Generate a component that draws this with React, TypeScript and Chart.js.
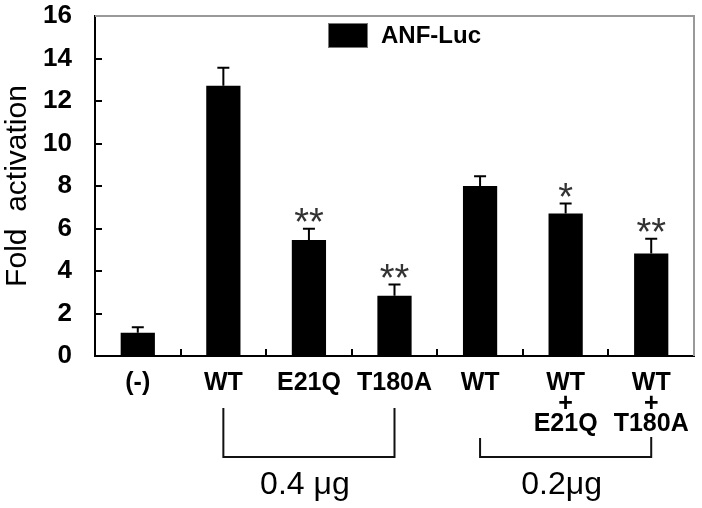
import React, { useEffect, useRef } from "react";
import { Chart, registerables } from "chart.js";

Chart.register(...registerables);

const FONT = "'Liberation Sans', Arial, Helvetica, sans-serif";

// ---- data ----
const categories: (string | string[])[] = [
  "(-)",
  "WT",
  "E21Q",
  "T180A",
  "WT",
  ["WT", "+", "E21Q"],
  ["WT", "+", "T180A"],
];
const foldActivation = [1.1, 12.72, 5.46, 2.84, 8.0, 6.71, 4.82];
const errorValues = [0.25, 0.85, 0.53, 0.53, 0.46, 0.47, 0.7];
const significance = ["", "", "**", "**", "", "*", "**"];
const seriesName = "ANF-Luc";
const yAxisTitle = "Fold  activation";
const yMin = 0;
const yMax = 16;
const yStep = 2;
const groupLabels = ["0.4 μg", "0.2μg"];
const groupFrom = [1, 4];
const groupTo = [3, 6];
const groupBracketTop = [408, 438];

const frameAndErrorPlugin = {
  id: "frameAndError",
  afterDatasetsDraw(chart: any) {
    const { ctx, chartArea } = chart;
    const y = chart.scales.y;
    const meta = chart.getDatasetMeta(0);
    ctx.save();
    // error bars
    ctx.strokeStyle = "#000";
    ctx.lineWidth = 2;
    meta.data.forEach((bar: any, i: number) => {
      const x = bar.x;
      const top = y.getPixelForValue(foldActivation[i] + errorValues[i]);
      const base = y.getPixelForValue(foldActivation[i]);
      ctx.beginPath();
      ctx.moveTo(x, base);
      ctx.lineTo(x, top);
      ctx.moveTo(x - 6, top);
      ctx.lineTo(x + 6, top);
      ctx.stroke();
      if (significance[i]) {
        ctx.fillStyle = "#333";
        ctx.font = `38px ${FONT}`;
        ctx.textAlign = "center";
        ctx.textBaseline = "alphabetic";
        ctx.fillText(significance[i], x, top - 15 + 0.57 * 38);
      }
    });
    // gray frame top/right
    ctx.strokeStyle = "#999";
    ctx.lineWidth = 2;
    ctx.beginPath();
    ctx.moveTo(chartArea.left, chartArea.top);
    ctx.lineTo(chartArea.right, chartArea.top);
    ctx.lineTo(chartArea.right, chartArea.bottom);
    ctx.stroke();
    ctx.restore();
  },
  afterDraw(chart: any) {
    const { ctx } = chart;
    const x = chart.scales.x;
    ctx.save();
    // legend
    const ds = chart.data.datasets[0];
    ctx.fillStyle = ds.backgroundColor;
    ctx.fillRect(328, 23, 40, 25);
    ctx.strokeStyle = "#777";
    ctx.lineWidth = 1;
    ctx.strokeRect(328.5, 23.5, 39, 24);
    ctx.fillStyle = "#000";
    ctx.font = `bold 24px ${FONT}`;
    ctx.textAlign = "left";
    ctx.textBaseline = "middle";
    ctx.fillText(ds.label, 381, 36);
    // group brackets
    ctx.strokeStyle = "#111";
    ctx.lineWidth = 2;
    const bottom = 457;
    groupLabels.forEach((label, g) => {
      const x1 = x.getPixelForValue(groupFrom[g]);
      const x2 = x.getPixelForValue(groupTo[g]);
      ctx.beginPath();
      ctx.moveTo(x1, groupBracketTop[g]);
      ctx.lineTo(x1, bottom);
      ctx.lineTo(x2, bottom);
      ctx.lineTo(x2, groupBracketTop[g] - (g === 1 ? 1 : 0));
      ctx.stroke();
      ctx.fillStyle = "#000";
      ctx.font = `32px ${FONT}`;
      ctx.textAlign = "center";
      ctx.textBaseline = "alphabetic";
      ctx.fillText(label, (x1 + x2) / 2 - 4, 494);
    });
    ctx.restore();
  },
};

export default function App() {
  const ref = useRef<HTMLCanvasElement | null>(null);
  useEffect(() => {
    if (!ref.current) return;
    const chart = new Chart(ref.current, {
      type: "bar",
      data: {
        labels: categories as any,
        datasets: [
          {
            label: seriesName,
            data: foldActivation,
            backgroundColor: "#000",
            borderWidth: 0,
            barPercentage: 0.4,
            categoryPercentage: 1.0,
          },
        ],
      },
      options: {
        animation: false,
        responsive: false,
        devicePixelRatio: 1,
        layout: { padding: { top: 16, right: 8, left: 0, bottom: 0 } },
        plugins: {
          legend: { display: false },
          tooltip: { enabled: false },
        },
        scales: {
          x: {
            offset: true,
            grid: {
              offset: true,
              drawOnChartArea: false,
              drawTicks: true,
              tickLength: -7,
              color: "#000",
              lineWidth: 2,
            },
            border: { display: true, color: "#000", width: 2 },
            ticks: {
              color: "#000",
              padding: 24,
              maxRotation: 0,
              autoSkip: false,
              font: { family: FONT, size: 25, weight: "bold", lineHeight: 0.82 },
            },
            afterFit(scale: any) {
              scale.height = 152;
              scale.paddingLeft = 0;
              scale.paddingRight = 0;
            },
          },
          y: {
            min: yMin,
            max: yMax,
            grid: {
              drawOnChartArea: false,
              drawTicks: true,
              tickLength: -7,
              color: "#000",
              lineWidth: 2,
            },
            border: { display: true, color: "#000", width: 2 },
            ticks: {
              stepSize: yStep,
              color: "#000",
              padding: 30,
              font: { family: FONT, size: 26, weight: "bold" },
            },
            title: {
              display: true,
              text: yAxisTitle,
              color: "#000",
              padding: 0,
              font: { family: FONT, size: 30, weight: "normal" },
            },
            afterFit(scale: any) {
              scale.width = 95;
              scale.paddingTop = 0;
              scale.paddingBottom = 0;
            },
          },
        },
      },
      plugins: [frameAndErrorPlugin],
    });
    return () => chart.destroy();
  }, []);
  return (
    <div style={{ position: "absolute", left: 0, top: 0, width: 702, height: 508, background: "#fff" }}>
      <canvas ref={ref} width={702} height={508} style={{ width: 702, height: 508 }} />
    </div>
  );
}
